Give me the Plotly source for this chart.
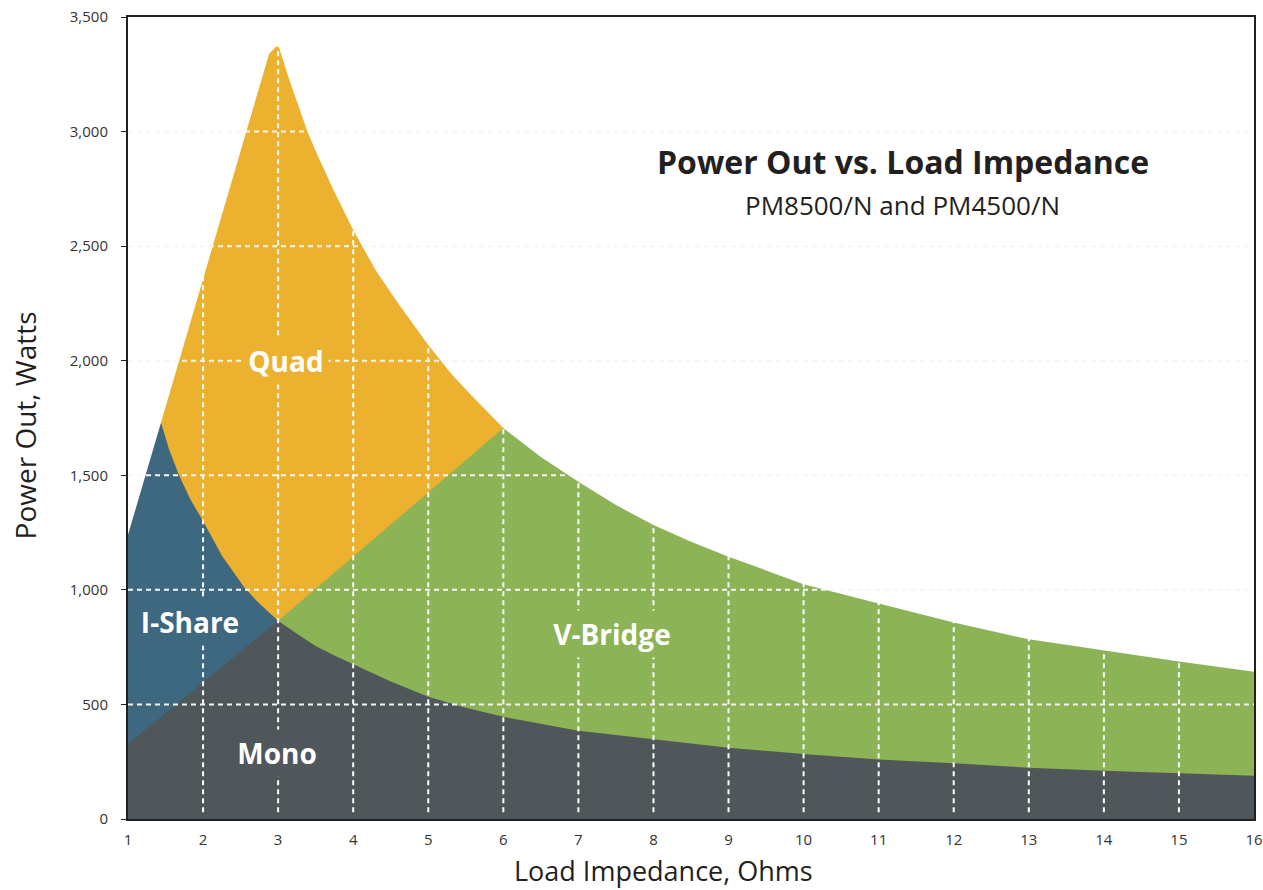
import plotly.graph_objects as go

# ---- data ----
quad_x = [1.44, 2.88, 3.0, 3.15, 3.39, 3.5, 3.73, 4.0, 4.3, 4.6, 5.0, 5.3, 5.57, 5.8, 6.0]
quad_y = [1730, 3340, 3380, 3225, 3000, 2915, 2750, 2570, 2395, 2250, 2069, 1945, 1850, 1775, 1706]

vbridge_x = [3.0, 6.0, 6.5, 7, 7.5, 8, 8.5, 9, 9.5, 10, 11, 12, 13, 14, 15, 16]
vbridge_y = [865, 1706, 1580, 1472, 1370, 1283, 1210, 1145, 1085, 1025, 941, 857, 784, 734, 687, 643]

ishare_x = [1.0, 1.44, 1.55, 1.68, 1.83, 2.0, 2.25, 2.55, 2.75, 3.0]
ishare_y = [1240, 1730, 1610, 1500, 1395, 1300, 1150, 1010, 940, 865]

mono_x = [1.0, 3.0, 3.25, 3.5, 3.75, 4, 4.5, 5, 5.5, 6, 7, 8, 9, 10, 11, 12, 13, 14, 15, 16]
mono_y = [327, 865, 808, 755, 713, 676, 600, 534, 485, 446, 385, 348, 311, 284, 260, 243, 224, 211, 199, 189]

x_ticks = list(range(1, 17))
y_ticks = [0, 500, 1000, 1500, 2000, 2500, 3000, 3500]

labels = ["Quad", "I-Share", "V-Bridge", "Mono"]
label_x = [3.10, 1.83, 7.45, 2.98]
label_y = [2000, 860, 807, 288]

C_QUAD = "#EDB130"
C_VB = "#8CB355"
C_IS = "#3E6780"
C_MONO = "#4F575B"
label_bg = [C_QUAD, C_IS, C_VB, C_MONO]
label_w = [84, 106, 132, 88]

TXT = "#231F20"
FONT = "Open Sans"

fig = go.Figure()
for xs, ys, col in [(quad_x, quad_y, C_QUAD), (vbridge_x, vbridge_y, C_VB),
                    (ishare_x, ishare_y, C_IS), (mono_x, mono_y, C_MONO)]:
    fig.add_trace(go.Scatter(x=xs, y=ys, mode="lines", line=dict(width=0, color=col),
                             fill="tozeroy", fillcolor=col, hoverinfo="skip",
                             showlegend=False))

shapes = []
for xv in x_ticks[1:-1]:
    shapes.append(dict(type="line", xref="x", yref="y", x0=xv, x1=xv, y0=30, y1=3500,
                       line=dict(color="white", width=2, dash="5px,4px"), layer="above"))
for yv in y_ticks[1:-1]:
    shapes.append(dict(type="line", xref="x", yref="y", x0=1, x1=16, y0=yv, y1=yv,
                       line=dict(color="#F6F6F6", width=2, dash="5px,4px"), layer="above"))

annotations = []
for t, xv, yv, bg, w in zip(labels, label_x, label_y, label_bg, label_w):
    annotations.append(dict(x=xv, y=yv, xref="x", yref="y", text=t, showarrow=False,
                            font=dict(family=FONT, size=28, color="white", weight="bold"),
                            bgcolor=bg, width=w, height=46, borderpad=0))

annotations.append(dict(x=0.688, y=0.820, xref="paper", yref="paper",
                        text="Power Out vs. Load Impedance", showarrow=False,
                        font=dict(family=FONT, size=32, color=TXT, weight="bold"),
                        xanchor="center", yanchor="middle"))
annotations.append(dict(x=0.688, y=0.766, xref="paper", yref="paper",
                        text="PM8500/N and PM4500/N", showarrow=False,
                        font=dict(family=FONT, size=26, color=TXT),
                        xanchor="center", yanchor="middle"))
annotations.append(dict(x=0.476, y=-0.0648, xref="paper", yref="paper",
                        text="Load Impedance, Ohms", showarrow=False,
                        font=dict(family=FONT, size=27, color=TXT),
                        xanchor="center", yanchor="middle"))
annotations.append(dict(x=-0.0913, y=0.491, xref="paper", yref="paper",
                        text="Power Out, Watts", showarrow=False, textangle=-90,
                        font=dict(family=FONT, size=28, color=TXT),
                        xanchor="center", yanchor="middle"))

fig.update_layout(
    width=1263, height=890,
    margin=dict(l=128, r=9, t=17, b=71),
    paper_bgcolor="white", plot_bgcolor="white",
    font=dict(family=FONT, color=TXT),
    shapes=shapes, annotations=annotations,
    xaxis=dict(range=[1, 16], tickvals=x_ticks, showgrid=False, zeroline=False,
               showline=True, linecolor="#231F20", linewidth=2, mirror=True,
               ticks="", tickfont=dict(size=15, color="#333"), ticklabelstandoff=6,
               automargin=False),
    yaxis=dict(range=[0, 3500], tickvals=y_ticks, tickformat=",", showgrid=False,
               zeroline=False, showline=True, linecolor="#231F20", linewidth=2,
               mirror=True, ticks="outside", ticklen=5, tickcolor="#231F20",
               tickfont=dict(size=15, color="#333"), ticklabelstandoff=10,
               automargin=False),
)

fig.write_html("out.html", config={"displayModeBar": False},
               post_script="document.body.style.margin='0';")
